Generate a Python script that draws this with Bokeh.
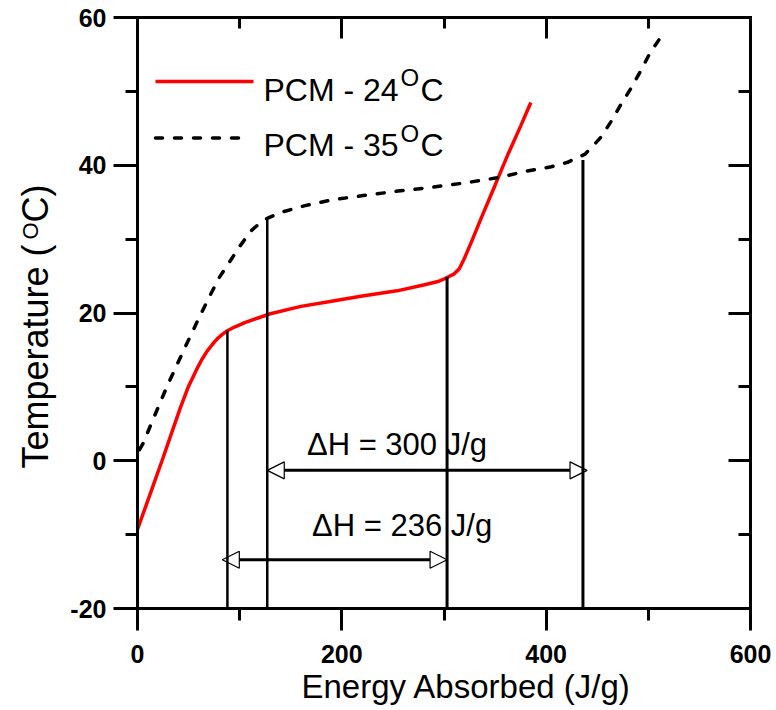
import math
from bokeh.plotting import figure
from bokeh.models import (LinearAxis, FixedTicker, Label, Range1d,
                          Arrow, NormalHead, ColumnDataSource, CustomLabelingPolicy)
from bokeh.core.properties import value
from bokeh.embed import file_html
from bokeh.resources import INLINE

# ---------------- data ----------------
energy_24 = [0, 8, 16, 24, 33, 42, 50, 58, 63, 68, 73, 78, 83, 88, 95, 105, 130, 160,
             190, 220, 254, 280, 295, 303, 310, 315, 320, 328, 336, 350, 363, 375, 385]
temp_24 = [-9.3, -6.2, -3.1, 0.0, 3.6, 7.2, 10.1, 12.4, 13.7, 14.8, 15.7, 16.5,
           17.1, 17.6, 18.1, 18.7, 19.9, 20.9, 21.6, 22.3, 23.0, 23.8, 24.3, 24.8,
           25.3, 26.0, 27.4, 30.0, 32.7, 37.3, 41.6, 45.3, 48.5]

energy_35 = [2, 6, 14, 29, 45, 58, 70, 80, 91, 100, 111, 120, 127, 140, 163, 190,
             221, 255, 287, 320, 352, 381, 405, 421, 438, 447, 453, 463, 473, 483,
             493, 502, 513, 516]
temp_35 = [1.5, 2.5, 5.2, 10.1, 14.9, 18.7, 22.1, 24.8, 27.1, 29.0, 31.1, 32.2,
           32.8, 33.6, 34.5, 35.3, 35.9, 36.5, 37.0, 37.6, 38.3, 39.2, 39.8, 40.4,
           41.5, 42.8, 43.7, 45.8, 48.2, 50.4, 52.9, 55.3, 57.5, 58.2]

drop_energy = [88, 127, 303, 436]
drop_temp = [17.6, 32.6, 24.9, 40.7]
drop_width = [2.5, 2.5, 3, 3]

dh_start = [127, 83]
dh_end = [440, 303]
dh_level = [-1.3, -13.4]
dh_labels = ["\u0394H = 300 J/g", "\u0394H = 236 J/g"]
dh_label_x = [254, 259]
dh_label_y = [2.2, -8.8]

x_major = [0, 200, 400, 600]
x_minor = [100, 300, 500]
y_major = [-20, 0, 20, 40, 60]
y_minor = [-10, 10, 30, 50]

series_names = ["PCM - 24", "PCM - 35"]
series_colors = ["#ff0000", "black"]
series_dash = ["solid", "7 12"]
x_title = "Energy Absorbed (J/g)"
y_title = ["Temperature (", "O", "C)"]

FONT = "Liberation Sans"

# ---------------- layout geometry (pixels) ----------------
W, H = 776, 710
PAD_L, PAD_R, PAD_T, PAD_B = 137, 26, 17, 102
x0, x1 = x_major[0], x_major[-1]
y0, y1 = y_major[0], y_major[-1]
sx = (W - PAD_L - PAD_R) / (x1 - x0)
sy = (H - PAD_T - PAD_B) / (y1 - y0)

p = figure(width=W, height=H, title=None, output_backend="svg", toolbar_location=None,
           x_range=Range1d(x0 - PAD_L / sx, x1 + PAD_R / sx),
           y_range=Range1d(y0 - PAD_B / sy, y1 + PAD_T / sy),
           min_border=0, x_axis_location=None, y_axis_location=None,
           background_fill_color="white", border_fill_color="white")
p.grid.visible = False
p.outline_line_color = None

xt = FixedTicker(ticks=x_major, minor_ticks=x_minor)
yt = FixedTicker(ticks=y_major, minor_ticks=y_minor)


def make_axis(ticker, loc, bounds, tin, tout, labels):
    ax = LinearAxis(ticker=ticker, fixed_location=loc, bounds=bounds)
    ax.axis_line_width = 3
    ax.axis_line_color = "black"
    ax.axis_line_cap = "square"
    ax.major_tick_line_width = 3
    ax.minor_tick_line_width = 3
    ax.major_tick_line_color = "black"
    ax.minor_tick_line_color = "black"
    ax.major_tick_in = tin[0]
    ax.minor_tick_in = tin[1]
    ax.major_tick_out = tout[0]
    ax.minor_tick_out = tout[1]
    if labels:
        ax.major_label_text_font = FONT
        ax.major_label_text_font_style = "bold"
        ax.major_label_text_font_size = "25px"
        ax.major_label_text_color = "black"
        ax.major_label_overrides = {v: str(v) for v in ticker.ticks}
    else:
        ax.major_label_policy = CustomLabelingPolicy(code="return []")
    return ax


bottom = make_axis(xt, y0, (x0, x1), (0, 0), (22, 12), True)
bottom.major_label_standoff = 14
p.add_layout(bottom, "below")

left = make_axis(yt, x0, (y0, y1), (0, 0), (24, 12), True)
left.major_label_standoff = 7
p.add_layout(left, "left")

top = make_axis(xt, y1, (x0, x1), (21, 11), (0, 0), False)
p.add_layout(top, "above")

right = make_axis(yt, x1, (y0, y1), (22, 12), (0, 0), False)
p.add_layout(right, "right")

# ---------------- data marks ----------------
p.line(energy_24, temp_24, line_color=series_colors[0], line_width=3.5,
       line_dash=series_dash[0])
p.line(energy_35, temp_35, line_color=series_colors[1], line_width=3.5,
       line_dash=series_dash[1], line_cap="round")

p.segment(x0=drop_energy, y0=[y0] * len(drop_energy), x1=drop_energy,
          y1=drop_temp, line_color="black", line_width=drop_width)

arrow_src = ColumnDataSource(dict(xs=dh_start, xe=dh_end, y=dh_level))
p.add_layout(Arrow(source=arrow_src, x_start="xs", y_start="y", x_end="xe",
                   y_end="y", line_width=3, line_color="black",
                   start=NormalHead(size=17, fill_alpha=0, line_width=1.2,
                                    line_color="black"),
                   end=NormalHead(size=17, fill_alpha=0, line_width=1.2,
                                  line_color="black")))

p.text(x=dh_label_x, y=dh_label_y, text=dh_labels, text_font=value(FONT),
       text_font_size="31px", text_align="center", text_baseline="middle",
       text_color="black")


# ---------------- legend (key lines + texts, in screen pixels) ----------------
def screen_label(x, y, text, size, angle=0.0, align="left"):
    p.add_layout(Label(x=x, y=y, x_units="screen", y_units="screen", text=text,
                       angle=angle, text_font=FONT, text_font_size=size,
                       text_color="black", text_baseline="alphabetic",
                       text_align=align))


KEY_X0 = 155
KEY_X1 = [253, 245]
KEY_Y = [629, 572.5]
TEXT_X = 263
TEXT_Y = [621, 565.5]
SUP_X = 400
SUP_DY = 12
C_X = 420

for i, name in enumerate(series_names):
    p.add_layout(Arrow(x_start=KEY_X0, y_start=KEY_Y[i], x_end=KEY_X1[i],
                       y_end=KEY_Y[i], start_units="screen", end_units="screen",
                       start=None, end=None, line_color=series_colors[i],
                       line_width=3.5, line_dash=series_dash[i],
                       line_cap="round" if i else "butt"))
    screen_label(TEXT_X, TEXT_Y[i], name, "32px")
    screen_label(SUP_X, TEXT_Y[i] + SUP_DY, "O", "24px")
    screen_label(C_X, TEXT_Y[i], "C", "32px")

# axis titles
screen_label(466, 24, x_title, "33px", align="center")
screen_label(35, 242, y_title[0], "36px", angle=math.pi / 2)
screen_label(30, 471, y_title[1], "22px", angle=math.pi / 2)
screen_label(35, 488, y_title[2], "36px", angle=math.pi / 2)

open("out.html", "w").write(file_html(p, INLINE))
